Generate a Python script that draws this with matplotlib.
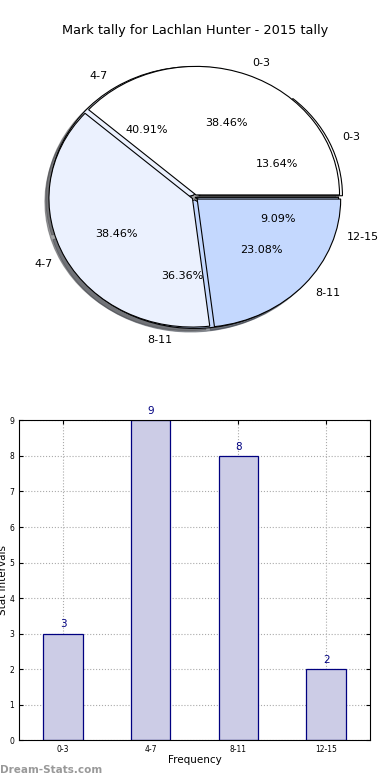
import matplotlib
matplotlib.use("Agg")
import matplotlib.pyplot as plt

# Data
categories = ["0-3", "4-7", "8-11", "12-15"]
counts = [3, 9, 8, 2]
inner_categories = ["0-3", "4-7", "8-11"]
inner_counts = [5, 5, 3]
title = "Mark tally for Lachlan Hunter - 2015 tally"

pie_colors = ["#ffffff", "#ebf1fe", "#c4d8fe", "#c4d8fe"]

fig = plt.figure(figsize=(3.9, 7.8), dpi=100)

ax1 = fig.add_axes([0.04, 0.541, 0.92, 0.412])
ax1.pie(counts, labels=categories, autopct="%.2f%%", colors=pie_colors,
        explode=[0.03, 0.02, 0.02, 0.0], shadow=True,
        wedgeprops=dict(edgecolor="black", linewidth=0.8),
        textprops=dict(fontsize=8))
ax1.pie(inner_counts, labels=inner_categories, autopct="%.2f%%",
        colors=pie_colors[:3], explode=[0.02] * len(inner_counts), shadow=True,
        wedgeprops=dict(edgecolor="black", linewidth=0.8),
        textprops=dict(fontsize=8))
ax1.set_aspect("auto")
ax1.set_xlim(-1.25, 1.25)
ax1.set_ylim(-1.25, 1.25)
fig.text(0.5, 0.961, title, ha="center", va="center", fontsize=9.3)

ax2 = fig.add_axes([0.049, 0.051, 0.9, 0.41])
x = range(len(categories))
bars = ax2.bar(x, counts, width=0.45, color="#cccce6", edgecolor="navy",
               linewidth=0.9, zorder=2)
for xi, c in zip(x, counts):
    ax2.text(xi, c + 0.12, str(c), ha="center", va="bottom", color="navy",
             fontsize=7.5)
ax2.set_xlim(-0.5, len(categories) - 0.5)
ax2.set_ylim(0, 9)
ax2.set_yticks(range(0, 10))
ax2.set_xticks(list(x))
ax2.set_xticklabels(categories)
ax2.tick_params(labelsize=5.5, length=3, direction="in", top=True, right=True)
ax2.grid(True, linestyle=":", color="#aaaaaa", linewidth=0.8, zorder=0)
ax2.set_axisbelow(True)
ax2.set_xlabel("Frequency", fontsize=7.5, labelpad=1)
ax2.set_ylabel("Stat Intervals", fontsize=7.5, labelpad=1)

fig.text(0.0, 0.013, "Dream-Stats.com", fontsize=7.5, color="#999999",
         fontweight="bold", ha="left", va="center")

fig.savefig("out.png", dpi=100)
